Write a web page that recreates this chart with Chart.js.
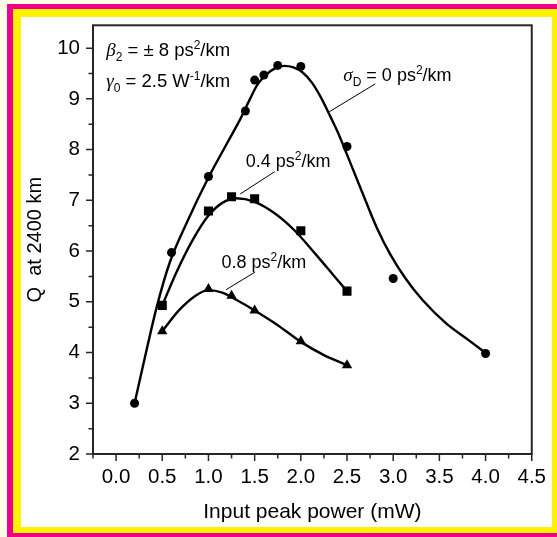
<!DOCTYPE html>
<html>
<head>
<meta charset="utf-8">
<script src="https://cdn.jsdelivr.net/npm/chart.js@4.4.1/dist/chart.umd.min.js"></script>
<style>
  html, body { margin: 0; padding: 0; background: #fffde8; }
  #wrap { width: 557px; height: 537px; position: relative; }
</style>
</head>
<body>
<div id="wrap"><canvas id="c" width="557" height="537"></canvas></div>
<script>
// Measured Q factor after 2400 km versus input peak power
const powerCircles = [0.2, 0.6, 1.0, 1.4, 1.5, 1.6, 1.75, 2.0, 2.5, 3.0, 4.0];
const qCircles     = [3.0, 5.97, 7.47, 8.76, 9.37, 9.47, 9.66, 9.64, 8.06, 5.46, 3.98];

const powerSquares = [0.5, 1.0, 1.25, 1.5, 2.0, 2.5];
const qSquares     = [4.93, 6.79, 7.07, 7.03, 6.40, 5.21];

const powerTriangles = [0.5, 1.0, 1.25, 1.5, 2.0, 2.5];
const qTriangles     = [4.42, 5.25, 5.12, 4.83, 4.22, 3.75];

// Fitted trend curves (knots along each smooth curve)
const fitPower0 = [0.2, 0.33, 0.44, 0.58, 0.76, 1.0, 1.2, 1.35, 1.45, 1.53, 1.62, 1.72, 1.82, 1.92, 2.02, 2.12, 2.22, 2.32, 2.42, 2.5, 2.66, 2.82, 2.97, 3.13, 3.32, 3.57, 3.82, 4.0];
const fitQ0     = [3.0, 4.05, 4.9, 5.77, 6.54, 7.45, 8.12, 8.62, 9.0, 9.28, 9.47, 9.6, 9.65, 9.62, 9.52, 9.32, 9.02, 8.65, 8.26, 7.9, 7.18, 6.47, 5.93, 5.47, 5.03, 4.58, 4.24, 3.99];

const fitPower04 = [0.5, 0.65, 0.83, 1.0, 1.15, 1.3, 1.5, 1.72, 1.93, 2.15, 2.36, 2.5];
const fitQ04     = [4.93, 5.57, 6.22, 6.70, 6.95, 7.04, 6.97, 6.74, 6.41, 5.96, 5.51, 5.21];

const fitPower08 = [0.5, 0.68, 0.86, 1.0, 1.15, 1.29, 1.5, 1.75, 2.0, 2.25, 2.5];
const fitQ08     = [4.42, 4.83, 5.12, 5.23, 5.18, 5.05, 4.83, 4.54, 4.21, 3.95, 3.75];

// Axis ticks
const xMajorTicks = [0, 0.5, 1, 1.5, 2, 2.5, 3, 3.5, 4, 4.5];
const xMinorTicks = [-0.25, 0.25, 0.75, 1.25, 1.75, 2.25, 2.75, 3.25, 3.75, 4.25];
const yMajorTicks = [2, 3, 4, 5, 6, 7, 8, 9, 10];
const yMinorTicks = [2.5, 3.5, 4.5, 5.5, 6.5, 7.5, 8.5, 9.5];

const pts = (xs, ys) => xs.map((x, i) => ({ x: x, y: ys[i] }));

const SANS = '"Liberation Sans", Arial, sans-serif';
const fMain = '18px ' + SANS;
const fMainB = '18.5px ' + SANS;
const fSmall = '12px ' + SANS;
const fGreek = 'italic 19px "Liberation Serif", serif';

// Text annotations anchored in data coordinates (left edge, baseline)
const notes = [
  { x: -0.107, y: 9.845, runs: [
    { t: '\u03B2', f: fGreek }, { t: '2', f: fSmall, dy: 5 }, { t: ' = \u00B1 8 ps', f: fMainB },
    { t: '2', f: fSmall, dy: -7 }, { t: '/km', f: fMainB } ] },
  { x: -0.107, y: 9.243, runs: [
    { t: '\u03B3', f: fGreek }, { t: '0', f: fSmall, dy: 5 }, { t: ' = 2.5 W', f: fMainB },
    { t: '-1', f: fSmall, dy: -7 }, { t: '/km', f: fMainB } ] },
  { x: 2.46, y: 9.359, runs: [
    { t: '\u03C3', f: fGreek }, { t: 'D', f: fSmall, dy: 5 }, { t: ' = 0 ps', f: fMain },
    { t: '2', f: fSmall, dy: -7 }, { t: '/km', f: fMain } ] },
  { x: 1.404, y: 7.664, runs: [
    { t: '0.4 ps', f: fMain }, { t: '2', f: fSmall, dy: -7 }, { t: '/km', f: fMain } ] },
  { x: 1.141, y: 5.67, runs: [
    { t: '0.8 ps', f: fMain }, { t: '2', f: fSmall, dy: -7 }, { t: '/km', f: fMain } ] }
];

// Leader lines from labels to curves (data coordinates)
const leaders = [
  [2.307, 8.744, 2.805, 9.295],
  [1.344, 7.126, 1.719, 7.567],
  [1.19, 5.237, 1.505, 5.586]
];

const decor = {
  id: 'decor',
  beforeDraw(chart) {
    const ctx = chart.ctx;
    ctx.save();
    ctx.fillStyle = '#fffde8';
    ctx.fillRect(0, 0, 557, 537);
    ctx.fillStyle = '#ec008c';
    ctx.fillRect(7, 4, 560, 533);
    ctx.fillStyle = '#fff200';
    ctx.fillRect(13, 9, 560, 524);
    ctx.fillStyle = '#ffffff';
    ctx.fillRect(21, 17, 531, 510);
    ctx.restore();
  },
  afterDraw(chart) {
    const ctx = chart.ctx;
    const a = chart.chartArea;
    const xs = chart.scales.x, ys = chart.scales.y;
    ctx.save();
    ctx.strokeStyle = '#262626';
    ctx.lineWidth = 2;
    ctx.strokeRect(a.left, a.top, a.right - a.left, a.bottom - a.top);
    ctx.lineWidth = 1.5;
    ctx.beginPath();
    xMajorTicks.forEach(v => { const p = xs.getPixelForValue(v); ctx.moveTo(p, a.bottom); ctx.lineTo(p, a.bottom + 7); });
    xMinorTicks.forEach(v => { const p = xs.getPixelForValue(v); ctx.moveTo(p, a.bottom); ctx.lineTo(p, a.bottom + 4.5); });
    yMajorTicks.forEach(v => { const p = ys.getPixelForValue(v); ctx.moveTo(a.left, p); ctx.lineTo(a.left - 7, p); });
    yMinorTicks.forEach(v => { const p = ys.getPixelForValue(v); ctx.moveTo(a.left, p); ctx.lineTo(a.left - 4.5, p); });
    ctx.stroke();

    ctx.strokeStyle = '#000';
    ctx.lineWidth = 1;
    ctx.beginPath();
    leaders.forEach(l => {
      ctx.moveTo(xs.getPixelForValue(l[0]), ys.getPixelForValue(l[1]));
      ctx.lineTo(xs.getPixelForValue(l[2]), ys.getPixelForValue(l[3]));
    });
    ctx.stroke();

    ctx.fillStyle = '#000';
    ctx.textBaseline = 'alphabetic';
    ctx.textAlign = 'left';
    notes.forEach(n => {
      let cx = xs.getPixelForValue(n.x);
      const by = ys.getPixelForValue(n.y);
      n.runs.forEach(r => {
        ctx.font = r.f;
        ctx.fillText(r.t, cx, by + (r.dy || 0));
        cx += ctx.measureText(r.t).width;
      });
    });
    ctx.restore();
  }
};

new Chart(document.getElementById('c'), {
  type: 'scatter',
  data: {
    datasets: [
      { data: pts(powerCircles, qCircles), pointStyle: 'circle', pointRadius: 4.5,
        backgroundColor: '#000', borderColor: '#000', borderWidth: 0 },
      { data: pts(powerSquares, qSquares), pointStyle: 'rect', pointRadius: 6.4,
        backgroundColor: '#000', borderColor: '#000', borderWidth: 0 },
      { data: pts(powerTriangles, qTriangles), pointStyle: 'triangle', pointRadius: 6,
        backgroundColor: '#000', borderColor: '#000', borderWidth: 0 },
      { type: 'line', data: pts(fitPower0, fitQ0), borderColor: '#000', borderWidth: 2.4,
        pointRadius: 0, fill: false, cubicInterpolationMode: 'monotone' },
      { type: 'line', data: pts(fitPower04, fitQ04), borderColor: '#000', borderWidth: 2.4,
        pointRadius: 0, fill: false, cubicInterpolationMode: 'monotone' },
      { type: 'line', data: pts(fitPower08, fitQ08), borderColor: '#000', borderWidth: 2.4,
        pointRadius: 0, fill: false, cubicInterpolationMode: 'monotone' }
    ]
  },
  options: {
    responsive: false,
    animation: false,
    devicePixelRatio: 1,
    layout: { padding: { left: 0, right: 20, top: 19, bottom: 12 } },
    plugins: { legend: { display: false }, tooltip: { enabled: false } },
    scales: {
      x: {
        type: 'linear', min: -0.25, max: 4.5,
        afterFit(s) { s.height = 71; },
        grid: { display: false, drawTicks: false },
        border: { display: false },
        ticks: {
          stepSize: 0.5, includeBounds: false, padding: 11, color: '#000',
          maxRotation: 0, autoSkip: false,
          font: { family: SANS, size: 20.5 },
          callback: v => Number(v).toFixed(1)
        },
        title: { display: true, text: 'Input peak power (mW)', color: '#000',
          font: { family: SANS, size: 21 }, padding: { top: 0, bottom: 0 } }
      },
      y: {
        type: 'linear', min: 2, max: 10.45,
        afterFit(s) { s.width = 93; },
        grid: { display: false, drawTicks: false },
        border: { display: false },
        ticks: {
          stepSize: 1, includeBounds: false, padding: 13, color: '#000',
          font: { family: SANS, size: 20.5 },
          callback: v => String(v)
        },
        title: { display: true, text: 'Q  at 2400 km', color: '#000',
          font: { family: SANS, size: 20 }, padding: { top: 23, bottom: 0 } }
      }
    }
  },
  plugins: [decor]
});
</script>
</body>
</html>
